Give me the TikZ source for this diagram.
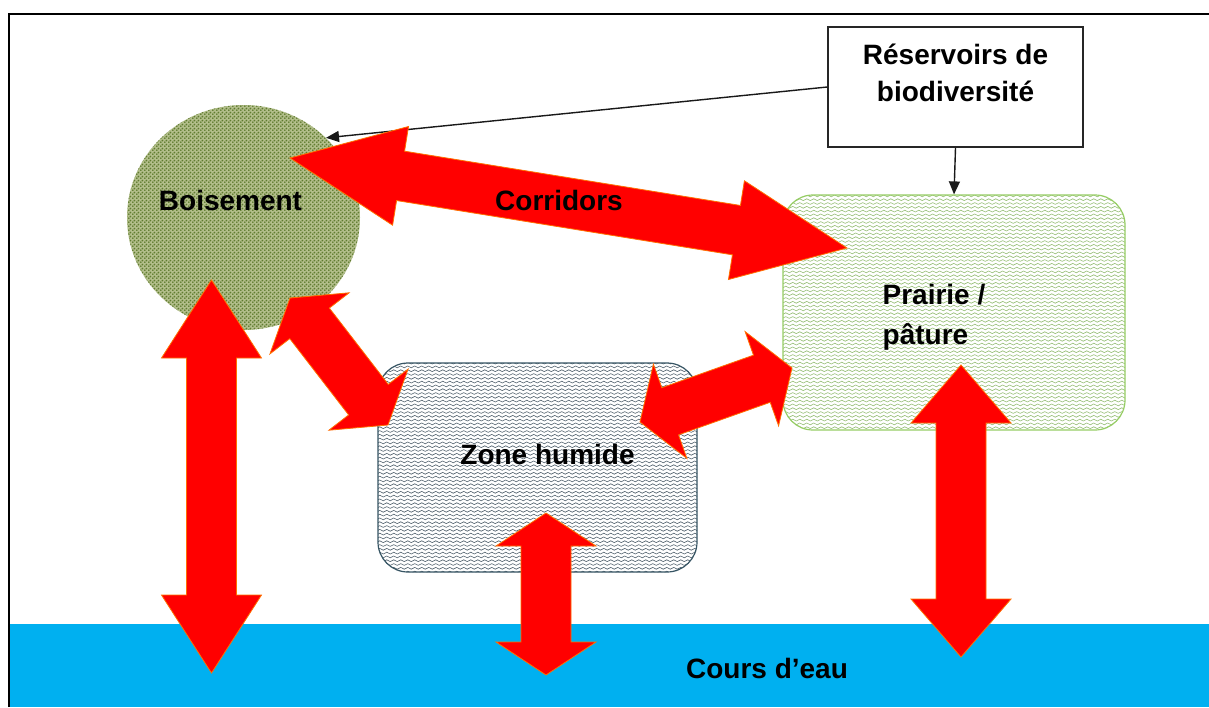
\documentclass[tikz,border=0pt]{standalone}
\usepackage{fontspec}
\setmainfont{Liberation Sans}
\usepackage{tikz}
\usetikzlibrary{arrows.meta, calc, shapes.geometric, patterns.meta}

\definecolor{woodbg}{RGB}{178,190,138}
\definecolor{wooddot}{RGB}{96,124,48}
\definecolor{meadowline}{RGB}{150,205,100}
\definecolor{meadowwave}{RGB}{150,190,118}
\definecolor{wetline}{RGB}{55,85,100}
\definecolor{wetwave}{RGB}{82,98,110}
\definecolor{water}{RGB}{0,176,240}
\definecolor{arrowedge}{RGB}{255,112,0}

\tikzdeclarepattern{
	name=waves,
	type=uncolored,
	bottom left={(-0.3pt,0pt)},
	top right={(7.3pt,3.8pt)},
	tile size={(7pt,3.8pt)},
	code={
		\draw[line width=0.6pt] (0pt,1.9pt) sin (1.75pt,2.8pt) cos (3.5pt,1.9pt)
			sin (5.25pt,1pt) cos (7pt,1.9pt);
	}
}
\tikzdeclarepattern{
	name=spots,
	type=uncolored,
	bottom left={(0pt,0pt)},
	top right={(4pt,4pt)},
	tile size={(4pt,4pt)},
	code={
		\fill (1pt,1pt) circle[radius=1.2pt];
		\fill (3pt,3pt) circle[radius=1.2pt];
	}
}

\newcommand{\fatarrow}[3]{%
	\draw[fat] let \p1=($(#2)-(#1)$), \n1={atan2(\y1,\x1)} in
		(#1) -- ($(#1)+(\n1:#3)+(\n1+90:50pt)$) -- ($(#1)+(\n1:#3)+(\n1+90:25pt)$)
		-- ($(#2)+(\n1+180:#3)+(\n1+90:25pt)$) -- ($(#2)+(\n1+180:#3)+(\n1+90:50pt)$)
		-- (#2)
		-- ($(#2)+(\n1+180:#3)+(\n1-90:50pt)$) -- ($(#2)+(\n1+180:#3)+(\n1-90:25pt)$)
		-- ($(#1)+(\n1:#3)+(\n1-90:25pt)$) -- ($(#1)+(\n1:#3)+(\n1-90:50pt)$) -- cycle;}

\begin{document}
\begin{tikzpicture}[x=1pt, y=-1pt,
		every node/.style={font=\fontsize{28}{38}\selectfont\bfseries},
		wood/.style={ellipse, inner sep=0pt, minimum width=233pt, minimum height=225pt,
			preaction={fill=woodbg}, pattern=spots, pattern color=wooddot},
		meadow/.style={rectangle, rounded corners=30pt, draw=meadowline, line width=1.2pt,
			minimum width=342pt, minimum height=235pt, pattern=waves, pattern color=meadowwave},
		wetland/.style={rectangle, rounded corners=30pt, draw=wetline, line width=1.2pt,
			minimum width=319pt, minimum height=209pt, pattern=waves, pattern color=wetwave},
		resbox/.style={rectangle, draw=black!85, line width=1.5pt, fill=white,
			minimum width=255pt, minimum height=120pt},
		link/.style={draw=black!90, line width=1.4pt, -{Triangle[length=13pt, width=11pt]}},
		fat/.style={fill=red, draw=arrowedge, line width=0.8pt, line join=miter}]
	\useasboundingbox (0,0) rectangle (1209,707);
	\fill[white] (0,0) rectangle (1209,707);
	\fill[water] (9,624) rectangle (1209,707);
	\draw[line width=2pt] (9,707) -- (9,14) -- (1209,14);

	\node[wood, label={[xshift=-13pt, yshift=17pt]center:Boisement}] (bois) at (243.5,217.5) {};
	\node[wetland, label={[xshift=10pt, yshift=13pt]center:Zone humide}] (zone) at (537.5,467.5) {};
	\node[meadow, label={[xshift=-20pt, yshift=-5pt, align=left,
		font=\fontsize{28}{40}\selectfont\bfseries]center:Prairie /\\pâture}] (prairie) at (954,312.5) {};
	\node[resbox, label={[yshift=14pt, align=center,
		font=\fontsize{28}{37}\selectfont\bfseries]center:Réservoirs de\\biodiversité}] (res) at (955.5,87) {};

	\draw[link] (res.west) -- (bois.44);
	\draw[link] (res.south) -- (prairie.north);

	\coordinate (cor1) at (290,158);
	\coordinate (cor2) at (847,248);
	\coordinate (bw1) at (211.5,280);
	\coordinate (bw2) at (211.5,673);
	\coordinate (bz1) at (290,298);
	\coordinate (bz2) at (388,425);
	\coordinate (zp1) at (640,422);
	\coordinate (zp2) at (792,368);
	\coordinate (zw1) at (546,513);
	\coordinate (zw2) at (546,675);
	\coordinate (pw1) at (961,365);
	\coordinate (pw2) at (961,657);

	\fatarrow{cor1}{cor2}{112pt}
	\fatarrow{bw1}{bw2}{78pt}
	\fatarrow{bz1}{bz2}{32pt}
	\fatarrow{zp1}{zp2}{32pt}
	\fatarrow{zw1}{zw2}{33pt}
	\fatarrow{pw1}{pw2}{58pt}

	\node (corr) at (559,200) {Corridors};
	\node (eau) at (767,668) {Cours d’eau};
\end{tikzpicture}
\end{document}
